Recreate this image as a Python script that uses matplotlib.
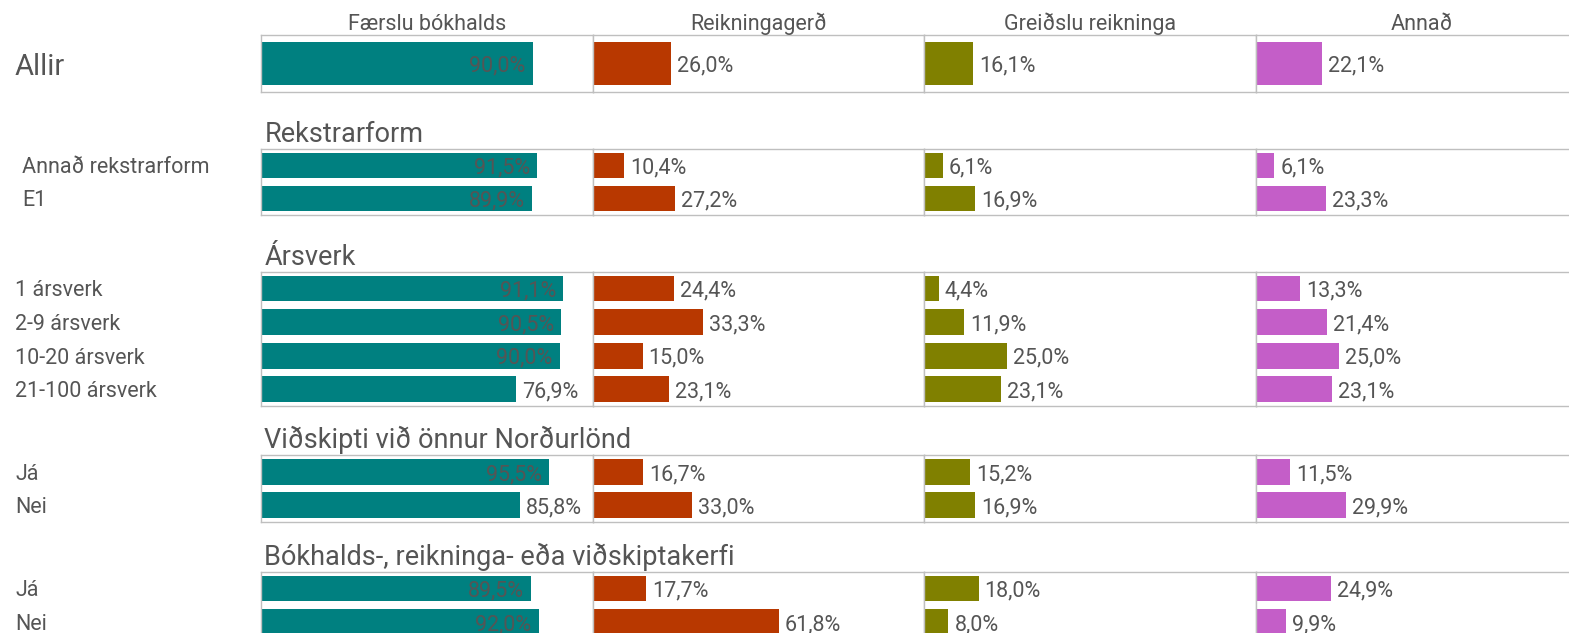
import matplotlib
matplotlib.use('Agg')
import matplotlib.pyplot as plt
from matplotlib import transforms

plt.rcParams['font.family'] = ['Roboto', 'DejaVu Sans']

# column headers and bar colours
categories = ['Færslu bókhalds', 'Reikningagerð', 'Greiðslu reikninga', 'Annað']
colors = ['#008080', '#B83800', '#808000', '#C45EC8']

# groups of rows, values are shares per category
group_titles = [None, 'Rekstrarform', 'Ársverk', 'Viðskipti við önnur Norðurlönd',
                'Bókhalds-, reikninga- eða viðskiptakerfi']
row_labels = [
    ['Allir'],
    ['Annað rekstrarform', 'E1'],
    ['1 ársverk', '2-9 ársverk', '10-20 ársverk', '21-100 ársverk'],
    ['Já', 'Nei'],
    ['Já', 'Nei'],
]
values = [
    [[0.900, 0.260, 0.161, 0.221]],
    [[0.915, 0.104, 0.061, 0.061],
     [0.899, 0.272, 0.169, 0.233]],
    [[0.911, 0.244, 0.044, 0.133],
     [0.905, 0.333, 0.119, 0.214],
     [0.900, 0.150, 0.250, 0.250],
     [0.769, 0.231, 0.231, 0.231]],
    [[0.955, 0.167, 0.152, 0.115],
     [0.858, 0.330, 0.169, 0.299]],
    [[0.895, 0.177, 0.180, 0.249],
     [0.920, 0.618, 0.080, 0.099]],
]
# axis maximum used by each group
x_max = [1.1, 1.1, 1.0, 1.1, 1.1]

W, H = 1569, 633
# pixel layout: box top / bottom of each group, x of row labels
box_top = [35.3, 148.7, 271.7, 455.3, 571.7]
box_bot = [92.0, 215.0, 406.0, 522.0, 638.7]
label_x = [15, 22, 15, 15, 15]
panel_left = 261.3
panel_w = 331.5

txt = '#555555'
grid = '#BFBFBF'

fig = plt.figure(figsize=(W / 100, H / 100), dpi=100)

def fmt(v):
    return f'{v * 100:.1f}%'.replace('.', ',')

for g in range(len(values)):
    n = len(values[g])
    for c in range(len(categories)):
        x0 = panel_left + c * panel_w
        ax = fig.add_axes([x0 / W, 1 - box_bot[g] / H, panel_w / W,
                           (box_bot[g] - box_top[g]) / H])
        vals = [row[c] for row in values[g]]
        ax.barh(range(n), vals, height=0.77, color=colors[c])
        ax.set_xlim(0, x_max[g])
        ax.set_ylim(n - 0.5, -0.5)
        ax.set_xticks([])
        ax.set_yticks([])
        for s in ax.spines.values():
            s.set_color(grid)
            s.set_linewidth(1.0)
        for i, v in enumerate(vals):
            if v / x_max[g] > 0.8:
                tr = transforms.offset_copy(ax.transData, fig, -7, 0, units='dots')
                ax.text(v, i, fmt(v), ha='right', va='center_baseline', fontsize=15.5,
                        color=txt, transform=tr)
            else:
                tr = transforms.offset_copy(ax.transData, fig, 6, 0, units='dots')
                ax.text(v, i, fmt(v), ha='left', va='center_baseline', fontsize=15.5,
                        color=txt, transform=tr)
        if g == 0:
            tr = transforms.offset_copy(ax.transAxes, fig, 0, 5, units='dots')
            ax.text(0.5, 1, categories[c], ha='center', va='baseline',
                    fontsize=15.5, color=txt, transform=tr)
        if c == 0:
            if group_titles[g]:
                tr = transforms.offset_copy(ax.transAxes, fig, 3, 7, units='dots')
                ax.text(0, 1, group_titles[g], ha='left', va='baseline',
                        fontsize=19.5, color=txt, transform=tr)
            bt = transforms.blended_transform_factory(fig.transFigure, ax.transData)
            for i, lab in enumerate(row_labels[g]):
                fig.text(label_x[g] / W, i, lab, ha='left', va='center_baseline',
                         fontsize=21 if g == 0 else 15.5, color=txt, transform=bt)

fig.savefig('out.png', dpi=100)
